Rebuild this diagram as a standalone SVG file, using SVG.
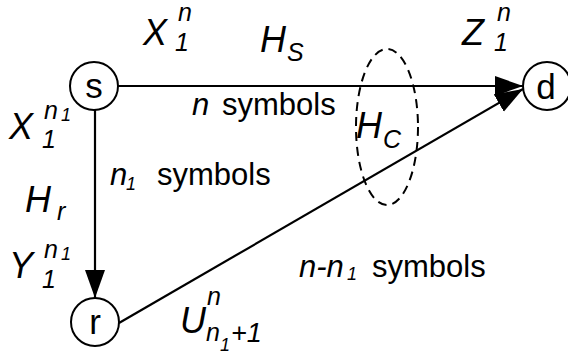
<svg xmlns="http://www.w3.org/2000/svg" width="568" height="354" viewBox="0 0 568 354">
<style>
  text { font-family: "Liberation Sans", Arial, sans-serif; fill: #000; }
  .lab { font-size: 36px; font-style: italic; }
  .sm { font-size: 25px; font-style: italic; }
  .tiny { font-size: 18px; font-style: italic; }
  .sym { font-size: 31px; }
  .symi { font-size: 31px; font-style: italic; }
  .node circle { fill: #fff; stroke: #000; stroke-width: 2; }
  .node text { font-size: 35px; text-anchor: middle; }
  .edge { stroke: #000; stroke-width: 2.2; fill: none; }
</style>
<defs>
  <marker id="arr" markerUnits="userSpaceOnUse" markerWidth="30" markerHeight="22" refX="28" refY="10" orient="auto">
    <path d="M0,0 L28,10 L0,20 Z" fill="#000"/>
  </marker>
</defs>
<g id="connectors">
  <line class="edge" x1="118" y1="86" x2="523" y2="86" marker-end="url(#arr)"/>
  <line class="edge" x1="95" y1="110" x2="95" y2="298" marker-end="url(#arr)"/>
  <line class="edge" x1="119" y1="323" x2="523" y2="89" marker-end="url(#arr)"/>
</g>
<g id="cut">
  <ellipse cx="387" cy="127" rx="31" ry="78" fill="none" stroke="#000" stroke-width="2" stroke-dasharray="9,6"/>
</g>
<g id="node-s" class="node">
  <circle cx="94" cy="86" r="24"/>
  <text x="94" y="98">s</text>
</g>
<g id="node-d" class="node">
  <circle cx="547" cy="86" r="24"/>
  <text x="546" y="99">d</text>
</g>
<g id="node-r" class="node">
  <circle cx="95" cy="322" r="24"/>
  <text x="95" y="334">r</text>
</g>
<g id="labels">
  <text class="lab" x="143" y="45">X</text>
  <text class="sm" x="178" y="21">n</text>
  <text class="sm" x="175" y="51">1</text>

  <text class="lab" x="260" y="52">H</text>
  <text class="sm" x="287" y="61">S</text>

  <text class="lab" x="462" y="45">Z</text>
  <text class="sm" x="497" y="21">n</text>
  <text class="sm" x="494" y="51">1</text>

  <text class="lab" x="9" y="139">X</text>
  <text class="sm" x="44" y="119">n</text>
  <text class="tiny" x="61" y="121">1</text>
  <text class="sm" x="42" y="148">1</text>

  <text class="lab" x="25" y="212">H</text>
  <text class="sm" x="57" y="220">r</text>

  <text class="lab" x="9" y="278">Y</text>
  <text class="sm" x="44" y="258">n</text>
  <text class="tiny" x="61" y="260">1</text>
  <text class="sm" x="42" y="288">1</text>

  <text class="lab" x="356" y="138">H</text>
  <text class="sm" x="383" y="148">C</text>

  <text class="lab" x="180" y="333">U</text>
  <text class="sm" x="207" y="305">n</text>
  <text class="sm" x="206" y="341">n</text>
  <text class="tiny" x="220" y="351">1</text>
  <text class="sm" x="231" y="342" style="font-size:27px">+1</text>

  <text class="symi" x="192" y="115">n</text>
  <text class="sym" x="222" y="115">symbols</text>

  <text class="symi" x="110" y="185">n</text>
  <text class="tiny" x="126" y="190">1</text>
  <text class="sym" x="157" y="185">symbols</text>

  <text class="symi" x="299" y="277">n-n</text>
  <text class="tiny" x="347" y="280">1</text>
  <text class="sym" x="372" y="277">symbols</text>
</g>
</svg>
